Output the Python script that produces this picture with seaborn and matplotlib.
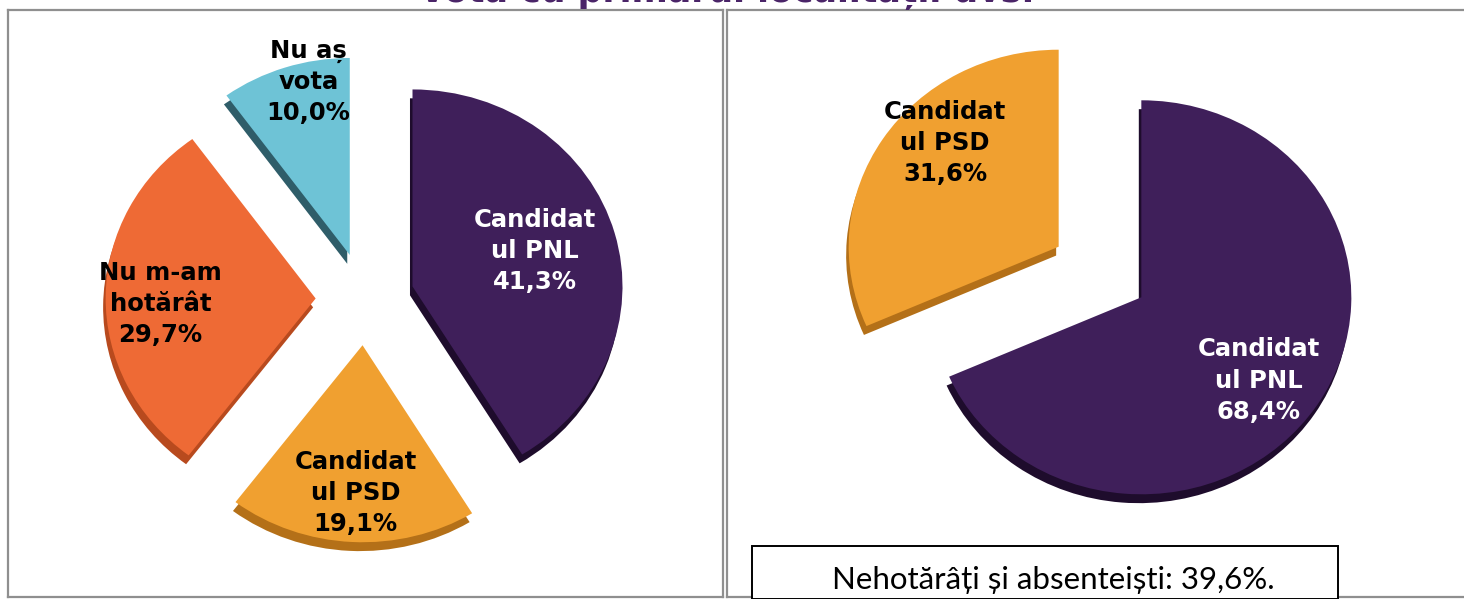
import numpy as np
import matplotlib
matplotlib.use("Agg")
import matplotlib.pyplot as plt
from matplotlib.patches import Rectangle
import seaborn as sns

sns.set_theme(style="white")
plt.rcParams['font.family'] = ['DejaVu Sans']

# ---- data ----
title = "Vota cu primarul localității dvs."
left_labels = ["Candidat\nul PNL", "Candidat\nul PSD", "Nu m-am\nhotărât", "Nu aș\nvota"]
left_values = [41.3, 19.1, 29.7, 10.0]
right_labels = ["Candidat\nul PNL", "Candidat\nul PSD"]
right_values = [68.4, 31.6]
note = "Nehotărâți și absenteiști: 39,6%."

# ---- style ----
W, H = 1464, 599
RX, RY = 210.0, 197.0
left_colors = ["#3f1f5a", "#f0a030", "#ee6a35", "#6ec3d6"]
left_dark = ["#1e0c2c", "#b47018", "#b84a1e", "#2f5d69"]
left_txt = ["white", "black", "black", "black"]
left_dist = [0.61, 0.75, 0.74, 0.90]
left_dang = [1.5, 0.4, 2.8, -5.4]
right_colors = ["#3f1f5a", "#f0a030"]
right_dark = ["#1e0c2c", "#b47018"]
right_txt = ["white", "black"]
right_dist = [0.70, 0.755]
right_dang = [-4.0, -11.1]

fig = plt.figure(figsize=(W / 100, H / 100), dpi=100)


def fmt(v):
    return f"{v:.1f}".replace(".", ",") + "%"


def make_axes(x0, x1, y0, y1):
    ax = fig.add_axes([x0 / W, 1 - y1 / H, (x1 - x0) / W, (y1 - y0) / H])
    ax.set_xticks([])
    ax.set_yticks([])
    for s in ax.spines.values():
        s.set_color("#8f8f8f")
        s.set_linewidth(1.6)
    return ax


def set_limits(ax, x0, x1, y0, y1, cx, cy):
    ax.set_xlim((x0 - cx) / RX, (x1 - cx) / RX)
    ax.set_ylim(-(y1 - cy) / RY, (cy - y0) / RY)
    ax.set_aspect('auto')


def draw_pie(ax, values, labels, colors, dark, txtc, dists, dangs, explode=0.235):
    ex = [explode] * len(values)
    ax.pie(values, colors=dark, startangle=90, counterclock=False,
           explode=ex, center=(-0.012, -0.045), radius=1.0,
           wedgeprops=dict(linewidth=0), frame=True)
    wedges, _ = ax.pie(values, colors=colors, startangle=90, counterclock=False,
                       explode=ex, center=(0, 0), radius=1.0,
                       wedgeprops=dict(linewidth=0), frame=True)
    for w, lab, v, c, d, da in zip(wedges, labels, values, txtc, dists, dangs):
        th = np.deg2rad((w.theta1 + w.theta2) / 2 + da)
        x0, y0 = w.center
        ax.text(x0 + d * np.cos(th), y0 + d * np.sin(th), f"{lab}\n{fmt(v)}",
                ha="center", va="center", color=c, fontsize=17.5,
                fontweight="bold", linespacing=1.38)


axL = make_axes(8, 723, 10, 597)
draw_pie(axL, left_values, left_labels, left_colors, left_dark, left_txt,
         left_dist, left_dang)
set_limits(axL, 8, 723, 10, 597, 365, 299)

axR = make_axes(727, 1475, 10, 597)
draw_pie(axR, right_values, right_labels, right_colors, right_dark, right_txt,
         right_dist, right_dang)
set_limits(axR, 727, 1475, 10, 597, 1100, 272)

# note box
fig.patches.append(Rectangle((752 / W, 0), (1338 - 752) / W, (H - 546) / H,
                             transform=fig.transFigure, facecolor="white",
                             edgecolor="black", linewidth=1.4, zorder=5))
fig.text(1053 / W, 1 - 580 / H, note, ha="center", va="center", fontsize=22.5,
         color="black", family=["Lato", "DejaVu Sans"], zorder=6)

# title (cut off at top in the reference)
fig.text(727 / W, 1 - 1.5 / H, title, ha="center", va="baseline", fontsize=25,
         fontweight="bold", color="#4a2468")

fig.savefig("out.png", dpi=100)
